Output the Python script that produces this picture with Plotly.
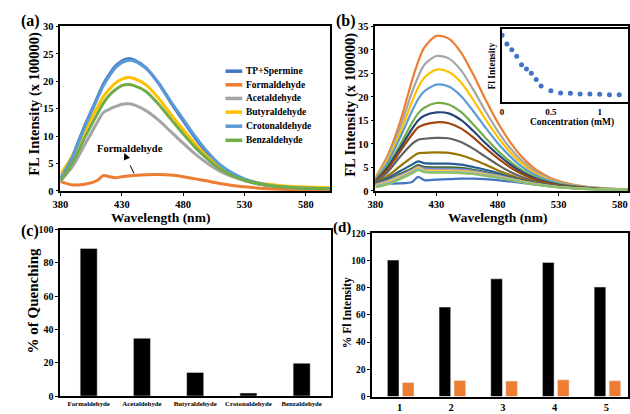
import plotly.graph_objects as go

W, H = 630, 414
FONT = "Liberation Serif"

# ---------------- data: panel (a) ----------------
WL_A = [380, 390, 400, 410, 415, 420, 425, 430, 435, 440, 450, 460, 470, 480, 490,
        500, 510, 520, 530, 540, 550, 560, 570, 580, 590, 600]
SERIES_A = ["TP+Spermine", "Formaldehyde", "Acetaldehyde", "Butyraldehyde",
            "Crotonaldehyde", "Benzaldehyde"]
COLORS_A = ["#4472C4", "#ED7D31", "#A5A5A5", "#FFC000", "#5B9BD5", "#70AD47"]
tp_spermine = [2.3, 6.5, 12.0, 17.0, 19.5, 21.3, 22.8, 23.7, 24.1, 23.9, 22.4, 19.6, 16.1, 12.8, 9.6,
               6.8, 4.5, 3.1, 2.0, 1.35, 0.95, 0.7, 0.55, 0.45, 0.4, 0.35]
formaldehyde = [1.7, 1.1, 1.2, 1.9, 2.8, 2.6, 2.4, 2.6, 2.7, 2.8, 2.95, 3.0, 2.9, 2.6, 2.2,
                1.8, 1.35, 1.0, 0.75, 0.55, 0.4, 0.3, 0.25, 0.2, 0.2, 0.2]
acetaldehyde = [1.8, 4.5, 8.5, 12.5, 14.3, 14.9, 15.4, 15.8, 15.9, 15.7, 14.6, 12.9, 10.8, 8.7, 6.7,
                5.0, 3.6, 2.6, 1.9, 1.35, 1.0, 0.75, 0.6, 0.5, 0.45, 0.4]
butyraldehyde = [3.0, 6.5, 11.0, 15.2, 17.2, 18.6, 19.7, 20.4, 20.7, 20.5, 19.3, 16.9, 14.0, 11.2, 8.5,
                 6.2, 4.3, 3.0, 2.1, 1.55, 1.2, 0.95, 0.8, 0.7, 0.65, 0.6]
crotonaldehyde = [2.2, 6.3, 11.8, 16.8, 19.2, 21.0, 22.5, 23.4, 23.8, 23.7, 22.3, 19.7, 16.3, 13.1, 9.9,
                  7.1, 4.8, 3.3, 2.2, 1.5, 1.05, 0.75, 0.6, 0.5, 0.45, 0.4]
benzaldehyde = [1.8, 5.2, 9.8, 14.0, 16.0, 17.5, 18.5, 19.2, 19.4, 19.2, 18.1, 15.8, 13.1, 10.4, 7.9,
                5.8, 4.0, 2.8, 1.95, 1.4, 1.0, 0.75, 0.6, 0.5, 0.45, 0.4]
DATA_A = [tp_spermine, formaldehyde, acetaldehyde, butyraldehyde, crotonaldehyde, benzaldehyde]

# ---------------- data: panel (b) titration ----------------
WL_B = [380, 390, 400, 410, 415, 420, 430, 440, 450, 460, 470, 480, 490, 500, 510, 520, 530,
        545, 560, 575, 590]
COLORS_B = ["#4472C4", "#ED7D31", "#A5A5A5", "#FFC000", "#5B9BD5", "#70AD47", "#264478",
            "#9E480E", "#636363", "#997300", "#255E91", "#43682B", "#698ED0", "#F1975A",
            "#B7B7B7", "#FFCD33", "#7CAFDD", "#8CC168"]
fl_tp = [1.8, 1.6, 1.6, 1.9, 3.0, 2.3, 2.4, 2.5, 2.6, 2.6, 2.5, 2.3, 2.0, 1.7, 1.4, 1.1, 0.85, 0.6, 0.4, 0.3, 0.25]
fl_c000 = [2.8, 7.5, 14.5, 23.5, 27.5, 30.5, 33.0, 32.4, 29.5, 24.8, 19.5, 14.6, 10.5, 7.2, 4.8, 3.2, 2.1, 1.2, 0.7, 0.45, 0.35]
fl_c005 = [2.6, 7.0, 13.3, 21.0, 24.3, 26.8, 28.7, 28.2, 25.7, 21.6, 17.0, 12.8, 9.2, 6.4, 4.3, 2.9, 1.9, 1.1, 0.65, 0.42, 0.33]
fl_c010 = [2.5, 6.5, 12.2, 19.0, 22.0, 24.1, 25.8, 25.3, 23.1, 19.4, 15.3, 11.5, 8.3, 5.8, 3.9, 2.6, 1.75, 1.0, 0.6, 0.4, 0.32]
fl_c015 = [2.4, 6.0, 11.2, 17.0, 19.5, 21.2, 22.6, 22.2, 20.2, 17.0, 13.5, 10.2, 7.4, 5.1, 3.5, 2.35, 1.6, 0.95, 0.55, 0.38, 0.3]
fl_c020 = [2.2, 5.3, 9.7, 14.5, 16.5, 17.7, 18.7, 18.4, 16.8, 14.2, 11.3, 8.6, 6.3, 4.4, 3.0, 2.05, 1.4, 0.85, 0.5, 0.35, 0.28]
fl_c025 = [2.1, 5.0, 9.0, 13.2, 15.0, 16.0, 16.7, 16.5, 15.1, 12.8, 10.2, 7.8, 5.7, 4.0, 2.75, 1.9, 1.3, 0.8, 0.48, 0.34, 0.27]
fl_c030 = [2.0, 4.6, 8.3, 12.0, 13.5, 14.1, 14.6, 14.4, 13.3, 11.4, 9.1, 7.0, 5.1, 3.6, 2.5, 1.75, 1.2, 0.75, 0.45, 0.33, 0.26]
fl_c035 = [1.9, 4.0, 7.2, 10.0, 10.9, 11.1, 11.3, 11.2, 10.4, 9.0, 7.3, 5.6, 4.1, 2.95, 2.05, 1.45, 1.0, 0.65, 0.42, 0.3, 0.25]
fl_c040 = [1.7, 3.2, 5.2, 7.2, 8.0, 8.1, 8.2, 8.1, 7.6, 6.7, 5.6, 4.4, 3.4, 2.5, 1.8, 1.3, 0.95, 0.62, 0.4, 0.29, 0.24]
fl_c050 = [1.6, 2.7, 4.2, 5.6, 6.3, 5.9, 5.8, 5.8, 5.6, 5.1, 4.5, 3.8, 3.0, 2.3, 1.7, 1.25, 0.9, 0.6, 0.4, 0.29, 0.24]
fl_c060 = [1.5, 2.4, 3.6, 4.8, 5.5, 5.1, 5.0, 5.0, 4.9, 4.5, 4.0, 3.4, 2.8, 2.2, 1.65, 1.2, 0.88, 0.58, 0.39, 0.28, 0.23]
fl_c070 = [1.4, 2.2, 3.3, 4.5, 5.2, 4.8, 4.7, 4.7, 4.6, 4.3, 3.8, 3.3, 2.7, 2.1, 1.6, 1.17, 0.86, 0.57, 0.38, 0.28, 0.23]
fl_c080 = [1.3, 2.0, 3.1, 4.3, 5.0, 4.5, 4.4, 4.4, 4.3, 4.05, 3.6, 3.15, 2.6, 2.05, 1.55, 1.14, 0.84, 0.56, 0.37, 0.27, 0.22]
fl_c090 = [1.2, 1.9, 3.0, 4.2, 4.9, 4.4, 4.3, 4.3, 4.2, 3.95, 3.55, 3.1, 2.55, 2.0, 1.52, 1.12, 0.82, 0.55, 0.37, 0.27, 0.22]
fl_c100 = [1.1, 1.8, 2.9, 4.1, 4.8, 4.3, 4.2, 4.2, 4.1, 3.85, 3.45, 3.0, 2.5, 1.95, 1.5, 1.1, 0.8, 0.54, 0.36, 0.26, 0.21]
fl_c110 = [1.0, 1.6, 2.7, 3.9, 4.6, 4.1, 4.0, 4.0, 3.9, 3.7, 3.3, 2.9, 2.4, 1.9, 1.45, 1.07, 0.78, 0.52, 0.35, 0.26, 0.21]
fl_c120 = [0.8, 1.4, 2.5, 3.7, 4.4, 4.0, 3.9, 3.9, 3.8, 3.6, 3.2, 2.8, 2.35, 1.85, 1.4, 1.04, 0.76, 0.5, 0.34, 0.25, 0.2]
DATA_B = [fl_tp, fl_c000, fl_c005, fl_c010, fl_c015, fl_c020, fl_c025, fl_c030, fl_c035,
          fl_c040, fl_c050, fl_c060, fl_c070, fl_c080, fl_c090, fl_c100, fl_c110, fl_c120]

# inset
conc_mM = [0, 0.05, 0.1, 0.15, 0.2, 0.25, 0.3, 0.35, 0.4, 0.5, 0.6, 0.7, 0.8, 0.9, 1.0, 1.1, 1.2]
fl_inset = [32.2, 28.0, 25.2, 22.1, 18.0, 16.0, 14.0, 10.9, 7.8, 5.6, 4.5, 4.35, 4.0, 4.0, 3.9, 3.7, 3.7]

# ---------------- data: panel (c) ----------------
aldehydes = ["Formaldehyde", "Acetaldehyde", "Butyraldehyde", "Crotonaldehyde", "Benzaldehyde"]
quenching = [88.7, 34.7, 14.2, 1.8, 19.7]

# ---------------- data: panel (d) ----------------
sample_no = [1, 2, 3, 4, 5]
fl_before = [100.3, 65.8, 86.5, 98.6, 80.5]
fl_after = [10.4, 11.9, 11.4, 12.3, 11.6]


def px(x):
    return x / W


def py(y):
    return 1 - y / H


def tfont(size):
    return dict(family=FONT, size=size, color="black", weight="bold")


def axis(domain, rng, dtick=None, ticks="outside", **kw):
    d = dict(domain=domain, range=rng, showline=True, linecolor="black", linewidth=1.5,
             mirror=True, ticks=ticks, ticklen=3, tickwidth=1.2, tickcolor="black",
             showgrid=False, zeroline=False, tickfont=tfont(10.5))
    if dtick is not None:
        d["dtick"] = dtick
    d.update(kw)
    return d


fig = go.Figure()

# panel (a)
for name, col, ys in zip(SERIES_A, COLORS_A, DATA_A):
    fig.add_trace(go.Scatter(x=WL_A, y=ys, name=name, mode="lines",
                             line=dict(color=col, width=3, shape="spline", smoothing=0.8),
                             xaxis="x", yaxis="y", showlegend=False))

# panel (b)
for col, ys in zip(COLORS_B, DATA_B):
    fig.add_trace(go.Scatter(x=WL_B, y=ys, mode="lines",
                             line=dict(color=col, width=2.2, shape="spline", smoothing=0.8),
                             xaxis="x2", yaxis="y2", showlegend=False))

# inset
fig.add_trace(go.Scatter(x=conc_mM, y=fl_inset, mode="markers",
                         marker=dict(color="#4472C4", size=5),
                         xaxis="x3", yaxis="y3", showlegend=False))

# panel (c)
fig.add_trace(go.Bar(x=aldehydes, y=quenching, marker=dict(color="black"), width=0.32,
                     xaxis="x4", yaxis="y4", showlegend=False))

# panel (d)
fig.add_trace(go.Bar(x=sample_no, y=fl_before, marker=dict(color="black"), width=0.225,
                     offset=-0.235, xaxis="x5", yaxis="y5", showlegend=False))
fig.add_trace(go.Bar(x=sample_no, y=fl_after, marker=dict(color="#ED7D31"), width=0.225,
                     offset=0.055, xaxis="x5", yaxis="y5", showlegend=False))

annotations = []
shapes = []


def label(text, x, y, size, angle=0, xanchor="center"):
    annotations.append(dict(text=text, x=px(x), y=py(y), xref="paper", yref="paper",
                            showarrow=False, font=tfont(size), textangle=angle,
                            xanchor=xanchor, yanchor="middle"))


# panel letters
label("(a)", 11, 16, 16, xanchor="left")
label("(b)", 331, 16, 16, xanchor="left")
label("(c)", 11, 232, 16, xanchor="left")
label("(d)", 328, 229, 15, xanchor="left")

# axis titles
label("FL Intensity (x 100000)", 27, 102, 14.5, angle=-90)
label("FL Intensity (x 100000)", 348, 102, 14.5, angle=-90)
label("Wavelength (nm)", 155, 218, 13.5)
label("Wavelength (nm)", 497, 218, 13.5)
label("% of Quenching", 25, 304, 15, angle=-90)
label("% Fl Intensity", 345, 316, 11.5, angle=-90)
label("Concentration (mM)", 573, 120.5, 9.5)
label("Fl Intensity", 492, 63, 9.5, angle=-90)

# legend for panel (a)
leg_y = [68, 82, 96, 110, 124.5, 139]
for name, col, yy in zip(SERIES_A, COLORS_A, leg_y):
    shapes.append(dict(type="line", xref="paper", yref="paper", x0=px(221), x1=px(238),
                       y0=py(yy), y1=py(yy), line=dict(color=col, width=3.5)))
    label(name, 240, yy, 9.5, xanchor="left")

# Formaldehyde annotation with dashed arrow
annotations.append(dict(text="Formaldehyde", x=436.4, y=7.8, xref="x", yref="y", showarrow=False,
                        font=tfont(10.5), xanchor="center", yanchor="middle"))
shapes.append(dict(type="line", xref="x", yref="y", x0=440, y0=3.2, x1=433.6, y1=6.1,
                   line=dict(color="black", width=1, dash="dash")))
annotations.append(dict(text="", x=432, y=6.9, ax=433.6, ay=6.1, xref="x", yref="y",
                        axref="x", ayref="y", showarrow=True, arrowhead=2, arrowsize=1.2,
                        arrowwidth=1.1, arrowcolor="black"))

fig.update_layout(
    width=W, height=H, margin=dict(l=0, r=0, t=0, b=0),
    paper_bgcolor="white", plot_bgcolor="white", barmode="overlay",
    font=dict(family=FONT, color="black"),
    xaxis=axis([px(53.3), px(327.5)], [380, 600], dtick=50, anchor="y", tick0=380),
    yaxis=axis([py(191), py(22)], [0, 30], dtick=5, anchor="x"),
    xaxis2=axis([px(373.3), 1.0], [380, 586.7], dtick=50, anchor="y2", tick0=380),
    yaxis2=axis([py(191), py(22)], [0, 35], dtick=5, anchor="x2"),
    xaxis3=axis([px(502), 1.0], [0, 1.29], ticks="", anchor="y3",
                tickvals=[0, 0.5, 1], ticktext=["0", "0.5", "1"], tickfont=tfont(9)),
    yaxis3=axis([py(100), py(25)], [0, 35], ticks="", showticklabels=False, anchor="x3"),
    xaxis4=axis([px(53), px(328)], [-0.536, 4.547], ticks="", anchor="y4",
                type="category", tickfont=tfont(6.8)),
    yaxis4=axis([py(401.7), py(230.7)], [0, 100], dtick=20, anchor="x4", tickfont=tfont(10)),
    xaxis5=axis([px(370), 1.0], [0.47, 5.42], ticks="", anchor="y5",
                tickvals=sample_no, tickfont=tfont(10.5)),
    yaxis5=axis([py(402.3), py(234.5)], [0, 120], dtick=20, anchor="x5", tickfont=tfont(9.5)),
    annotations=annotations, shapes=shapes,
)

fig.write_html(
    "out.html",
    config={"displayModeBar": False},
    post_script="document.body.style.margin='0';document.body.style.overflow='hidden';",
)
